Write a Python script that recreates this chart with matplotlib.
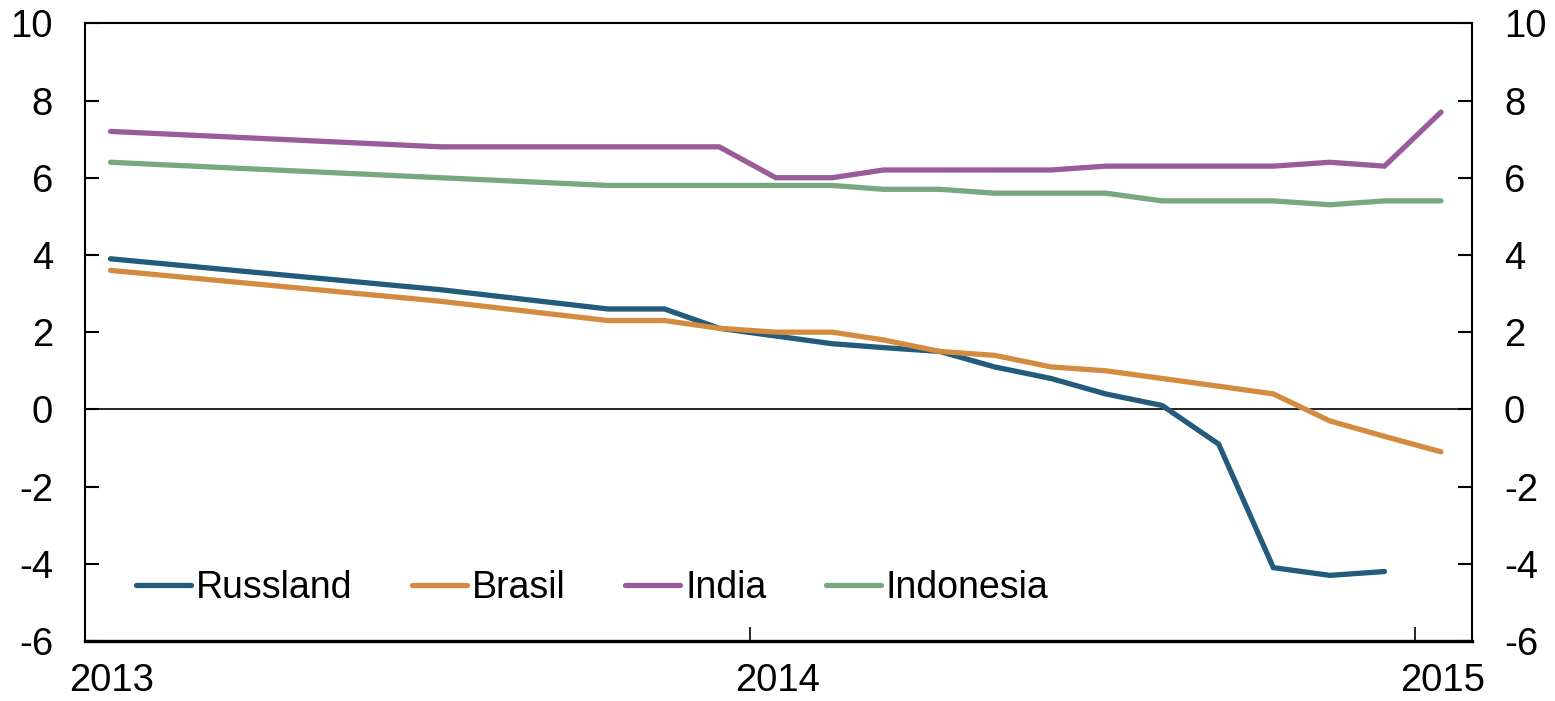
import matplotlib
matplotlib.use("Agg")
import matplotlib.pyplot as plt
from matplotlib.transforms import ScaledTranslation
import numpy as np
import datetime as dt

months = ["2013-01", "2013-07", "2013-10", "2013-11", "2013-12",
          "2014-01", "2014-02", "2014-03", "2014-04", "2014-05", "2014-06",
          "2014-07", "2014-08", "2014-09", "2014-10", "2014-11", "2014-12",
          "2015-01"]
russland = [3.9, 3.1, 2.6, 2.6, 2.1, 1.9, 1.7, 1.6, 1.5, 1.1, 0.8, 0.4, 0.1,
            -0.9, -4.1, -4.3, -4.2, np.nan]
brasil = [3.6, 2.8, 2.3, 2.3, 2.1, 2.0, 2.0, 1.8, 1.5, 1.4, 1.1, 1.0, 0.8,
          0.6, 0.4, -0.3, -0.7, -1.1]
india = [7.2, 6.8, 6.8, 6.8, 6.8, 6.0, 6.0, 6.2, 6.2, 6.2, 6.2, 6.3, 6.3,
         6.3, 6.3, 6.4, 6.3, 7.7]
indonesia = [6.4, 6.0, 5.8, 5.8, 5.8, 5.8, 5.8, 5.7, 5.7, 5.6, 5.6, 5.6, 5.4,
             5.4, 5.4, 5.3, 5.4, 5.4]
series_names = ["Russland", "Brasil", "India", "Indonesia"]
colors = ["#225b7b", "#d38b3f", "#995c99", "#79a77f"]
year_ticks = ["2013", "2014", "2015"]
y_ticks = [-6, -4, -2, 0, 2, 4, 6, 8, 10]

plt.rcParams["font.family"] = ["Liberation Sans", "DejaVu Sans"]
FS = 27.5
LFS = 27

dates = [dt.datetime(int(m[:4]), int(m[5:]), 15) for m in months]

fig = plt.figure(figsize=(15.55, 7.01), dpi=100)
ax = fig.add_axes([85/1555, 60/701, (1472-85)/1555, (641-23.3)/701])

for vals, name, c in zip([russland, brasil, india, indonesia], series_names, colors):
    ax.plot(dates, vals, color=c, lw=3.8, label=name, solid_capstyle="round",
            solid_joinstyle="miter")

ax.axhline(0, color="black", lw=1.2, zorder=1)

ax.set_xlim(dt.datetime(2013, 1, 1), dt.datetime(2015, 2, 1))
ax.set_ylim(-6, 10)
ax.set_yticks(y_ticks)
ax.set_yticklabels([str(v) for v in y_ticks])
ax.set_xticks([dt.datetime(int(y), 1, 1) for y in year_ticks])
ax.set_xticklabels(year_ticks)

ax.tick_params(axis="y", direction="in", length=10, width=1.5, labelsize=FS,
               pad=23, left=True, right=True, labelleft=True, labelright=True)
ax.tick_params(axis="x", direction="in", length=10, width=1.2, labelsize=FS,
               pad=16)
offset = ScaledTranslation(27/100, 0, fig.dpi_scale_trans)
for lab in ax.get_xticklabels():
    lab.set_transform(lab.get_transform() + offset)

for s in ["left", "right", "top"]:
    ax.spines[s].set_linewidth(1.5)
ax.spines["bottom"].set_linewidth(2.4)

leg = ax.legend(loc="lower left", bbox_to_anchor=(0.037, 0.056), ncol=4,
                frameon=False, fontsize=LFS, handlelength=1.47,
                handletextpad=0.13, columnspacing=1.58, borderaxespad=0,
                borderpad=0)

fig.savefig("out.png", dpi=100)
